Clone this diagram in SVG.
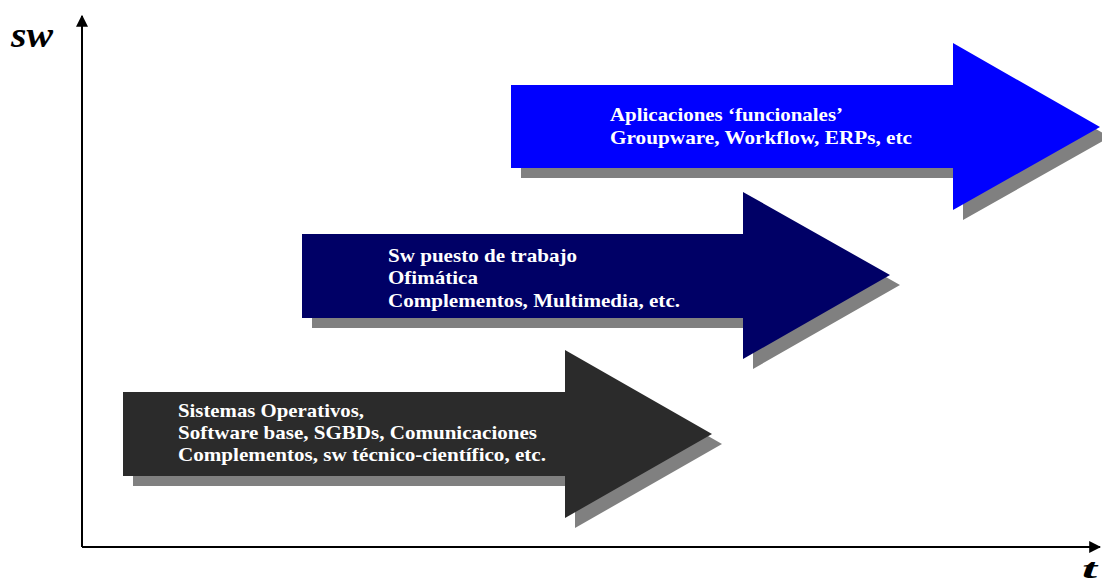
<svg xmlns="http://www.w3.org/2000/svg" width="1102" height="581" viewBox="0 0 1102 581">
  <style>
    .lbl { font-family: "Liberation Serif", "Times New Roman", serif; font-weight: bold; font-size: 19px; fill: #ffffff; }
    .axis-lbl { font-family: "Liberation Serif", "Times New Roman", serif; font-weight: bold; font-style: italic; fill: #000000; }
    .shadow { fill: #808080; }
    .axis { stroke: #000000; stroke-width: 2; fill: none; }
  </style>
  <defs>
    <marker id="axisHead" viewBox="0 0 10 10" refX="9" refY="5" markerWidth="6" markerHeight="6" orient="auto" markerUnits="strokeWidth">
      <path d="M0,0 L10,5 L0,10 z" fill="#000000"/>
    </marker>
  </defs>

  <rect width="1102" height="581" fill="#ffffff"/>

  <!-- axes -->
  <g id="connectors">
    <line class="axis" x1="82" y1="547" x2="82" y2="16" marker-end="url(#axisHead)"/>
    <line class="axis" x1="82" y1="547" x2="1100" y2="547" marker-end="url(#axisHead)"/>
  </g>
  <text class="axis-lbl" x="11" y="47" font-size="36" textLength="42" lengthAdjust="spacingAndGlyphs">sw</text>
  <text class="axis-lbl" x="1082" y="578" font-size="28" textLength="15" lengthAdjust="spacingAndGlyphs">t</text>

  <!-- bottom band: base software -->
  <g id="base-software">
    <path class="shadow" d="M133,402 H575 V360 L722,444 L575,528 V486 H133 z"/>
    <path fill="#2b2b2b" d="M123,392 H565 V350 L712,434 L565,518 V476 H123 z"/>
    <text class="lbl" x="178" y="417" textLength="186" lengthAdjust="spacingAndGlyphs">Sistemas Operativos,</text>
    <text class="lbl" x="178" y="439" textLength="359" lengthAdjust="spacingAndGlyphs">Software base, SGBDs, Comunicaciones</text>
    <text class="lbl" x="178" y="461" textLength="368" lengthAdjust="spacingAndGlyphs">Complementos, sw técnico-científico, etc.</text>
  </g>

  <!-- middle band: workstation software -->
  <g id="workstation-software">
    <path class="shadow" d="M312,244 H753 V202 L900,285 L753,369 V328 H312 z"/>
    <path fill="#000066" d="M302,234 H743 V192 L890,275 L743,359 V318 H302 z"/>
    <text class="lbl" x="388" y="262" textLength="189" lengthAdjust="spacingAndGlyphs">Sw puesto de trabajo</text>
    <text class="lbl" x="388" y="284" textLength="90" lengthAdjust="spacingAndGlyphs">Ofimática</text>
    <text class="lbl" x="388" y="307" textLength="292" lengthAdjust="spacingAndGlyphs">Complementos, Multimedia, etc.</text>
  </g>

  <!-- top band: functional applications -->
  <g id="functional-apps">
    <path class="shadow" d="M521,95 H963 V53 L1110,137 L963,220 V178 H521 z"/>
    <path fill="#0000ff" d="M511,85 H953 V43 L1100,127 L953,210 V168 H511 z"/>
    <text class="lbl" x="610" y="121" textLength="233" lengthAdjust="spacingAndGlyphs">Aplicaciones ‘funcionales’</text>
    <text class="lbl" x="610" y="144" textLength="302" lengthAdjust="spacingAndGlyphs">Groupware, Workflow, ERPs, etc</text>
  </g>
</svg>
